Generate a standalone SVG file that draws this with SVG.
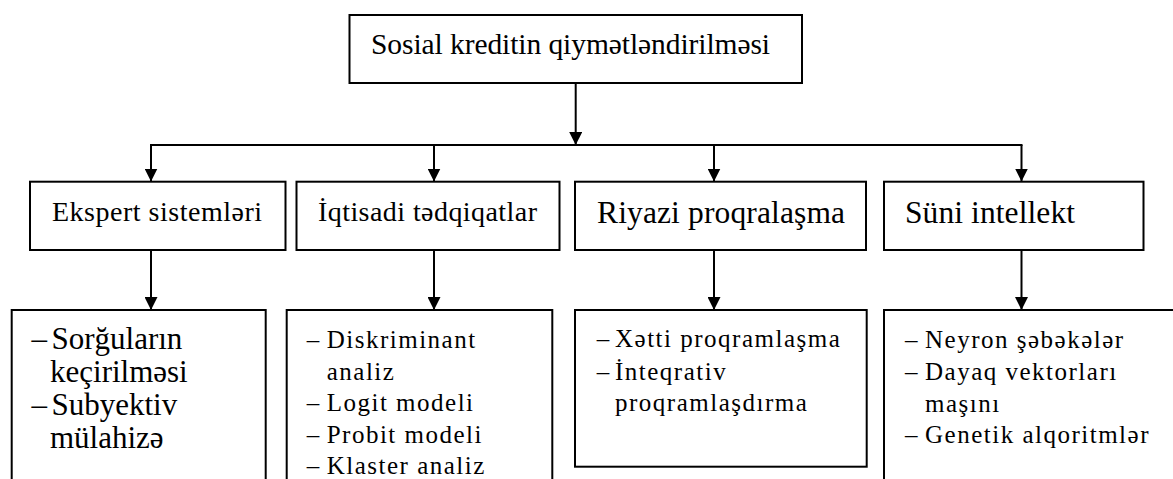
<svg xmlns="http://www.w3.org/2000/svg" width="1173" height="479" viewBox="0 0 1173 479" font-family="Liberation Serif, serif">
<style>
.box{fill:#fff;stroke:#000;stroke-width:2}
.conn{stroke:#000;stroke-width:2;fill:none}
.h1{font-size:29.5px}
.h2{font-size:28px}
.h3{font-size:31.5px}
.l1{font-size:31px}
.l2{font-size:25px;letter-spacing:1.5px}
</style>
<defs>
<marker id="ah" markerUnits="userSpaceOnUse" markerWidth="13" markerHeight="13" viewBox="0 0 13 13" refX="13" refY="6.5" orient="auto">
<path d="M0,0 L13,6.5 L0,13 z" fill="#000"/>
</marker>
</defs>
<rect width="1173" height="479" fill="#fff"/>
<g id="connectors">
<line class="conn" x1="575.7" y1="83" x2="575.7" y2="145" marker-end="url(#ah)"/>
<line class="conn" x1="150" y1="145" x2="1022.5" y2="145"/>
<line class="conn" x1="151" y1="145" x2="151" y2="181.5" marker-end="url(#ah)"/>
<line class="conn" x1="434" y1="145" x2="434" y2="181.5" marker-end="url(#ah)"/>
<line class="conn" x1="714" y1="145" x2="714" y2="181.5" marker-end="url(#ah)"/>
<line class="conn" x1="1021.5" y1="145" x2="1021.5" y2="181.5" marker-end="url(#ah)"/>
<line class="conn" x1="151" y1="250" x2="151" y2="310" marker-end="url(#ah)"/>
<line class="conn" x1="434" y1="250" x2="434" y2="310" marker-end="url(#ah)"/>
<line class="conn" x1="714" y1="250" x2="714" y2="310" marker-end="url(#ah)"/>
<line class="conn" x1="1021.5" y1="250" x2="1021.5" y2="310" marker-end="url(#ah)"/>
</g>
<g id="root">
<rect class="box" x="349.5" y="15" width="452.5" height="68"/>
<text class="h1" font-family="Liberation Serif, serif" x="371" y="54" textLength="399" lengthAdjust="spacing">Sosial kreditin qiymətləndirilməsi</text>
</g>
<g id="ekspert">
<rect class="box" x="30" y="181.7" width="255.5" height="68.3"/>
<text class="h2" x="52" y="220.5" textLength="210" lengthAdjust="spacing">Ekspert sistemləri</text>
</g>
<g id="iqtisadi">
<rect class="box" x="296.5" y="181.7" width="263" height="68.3"/>
<text class="h2" x="318" y="220.5" textLength="219" lengthAdjust="spacing">İqtisadi tədqiqatlar</text>
</g>
<g id="riyazi">
<rect class="box" x="575" y="181.7" width="291" height="68.3"/>
<text class="h3" x="597" y="223" textLength="248" lengthAdjust="spacing">Riyazi proqralaşma</text>
</g>
<g id="suni">
<rect class="box" x="884" y="181.7" width="259.5" height="68.3"/>
<text class="h3" x="905" y="223" textLength="170" lengthAdjust="spacing">Süni intellekt</text>
</g>
<g id="ekspert-list">
<rect class="box" x="11.7" y="310" width="254" height="190"/>
<text class="l1" x="31.5" y="349">–</text>
<text class="l1" x="51.5" y="349">Sorğuların</text>
<text class="l1" x="50" y="382">keçirilməsi</text>
<text class="l1" x="31.5" y="415">–</text>
<text class="l1" x="51.5" y="415">Subyektiv</text>
<text class="l1" x="50" y="448">mülahizə</text>
</g>
<g id="iqtisadi-list">
<rect class="box" x="286.7" y="310" width="265.6" height="190"/>
<text class="l2" x="306.7" y="348">–</text>
<text class="l2" x="326.7" y="348">Diskriminant</text>
<text class="l2" x="326.7" y="379.5">analiz</text>
<text class="l2" x="306.7" y="411">–</text>
<text class="l2" x="326.7" y="411">Logit modeli</text>
<text class="l2" x="306.7" y="442.5">–</text>
<text class="l2" x="326.7" y="442.5">Probit modeli</text>
<text class="l2" x="306.7" y="474">–</text>
<text class="l2" x="326.7" y="474">Klaster analiz</text>
</g>
<g id="riyazi-list">
<rect class="box" x="575" y="310" width="291.7" height="156.7"/>
<text class="l2" x="596.7" y="347">–</text>
<text class="l2" x="615" y="347">Xətti proqramlaşma</text>
<text class="l2" x="596.7" y="379.5">–</text>
<text class="l2" x="615" y="379.5">İnteqrativ</text>
<text class="l2" x="615" y="411">proqramlaşdırma</text>
</g>
<g id="suni-list">
<rect class="box" x="884" y="310" width="300" height="190"/>
<text class="l2" x="905" y="348">–</text>
<text class="l2" x="925" y="348">Neyron şəbəkələr</text>
<text class="l2" x="905" y="380">–</text>
<text class="l2" x="925" y="380">Dayaq vektorları</text>
<text class="l2" x="925" y="411.5">maşını</text>
<text class="l2" x="905" y="443">–</text>
<text class="l2" x="925" y="443">Genetik alqoritmlər</text>
</g>
</svg>
